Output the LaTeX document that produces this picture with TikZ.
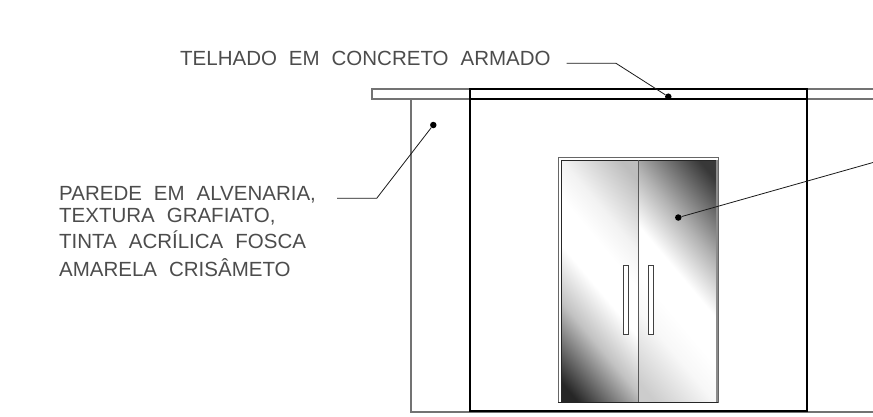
\documentclass[tikz,border=0pt]{standalone}
\usepackage{fontspec}
\setmainfont[WordSpace=2.1]{Liberation Sans}
\usetikzlibrary{calc}

\pgfdeclareverticalshading{leafglass}{100bp}{color(0bp)=(black!85); color(19bp)=(black!85); color(36bp)=(black!24); color(48bp)=(white); color(58bp)=(white); color(66bp)=(black!5); color(81bp)=(black!26); color(100bp)=(black!26)}
\pgfdeclareverticalshading{leafglasstwo}{100bp}{color(0bp)=(black!20); color(19bp)=(black!20); color(34bp)=(black!3); color(42bp)=(white); color(52bp)=(white); color(64bp)=(black!30); color(81bp)=(black!78); color(100bp)=(black!78)}

\tikzset{
    thinline/.style={draw=black!55, line width=1.2pt},
    heavyline/.style={draw=black, line width=2pt},
    leader/.style={draw=black!90, line width=0.8pt},
    leaderdot/.style={circle, fill=black, inner sep=0pt, minimum size=6.5pt},
    notetext/.style={anchor=base west, inner sep=0pt, font=\fontsize{20.5}{20.5}\selectfont, text=black!70},
    doorhandle/.style={draw=black!75, fill=white, line width=0.9pt}
}

\begin{document}
\begin{tikzpicture}[x=1pt,y=-1pt]
        \useasboundingbox (0,0) rectangle (873,416);

        % walls and roof
        \draw[thinline] (873,89) -- (372,89) -- (372,99) -- (873,99);
        \draw[thinline] (411,99) -- (411,412) -- (873,412);
        \draw[heavyline] (470,89) rectangle (807,411);
        \draw[heavyline] (470,99) -- (807,99);

        % door
        \draw[draw=black!60, line width=1pt] (558,157) rectangle (718,402);
        \shade[shading=leafglass, shading angle=-50] (561,160) rectangle (638,402);
        \shade[shading=leafglasstwo, shading angle=-50] (638,160) rectangle (716,402);
        \draw[draw=black!85, line width=1pt] (561,402) -- (561,160) -- (716,160);
        \draw[draw=black!85, line width=1pt] (558,402) -- (718,402);
        \draw[draw=black!45, line width=2pt] (716.5,160) -- (716.5,402);
        \draw[draw=black!65, line width=1pt] (638,160) -- (638,402);
        \draw[doorhandle] (623.3,265) rectangle (628.7,334);
        \draw[doorhandle] (648.3,265) rectangle (653.7,334);

        % notes
        \node[notetext] (telhado) at (180,65)  {TELHADO EM CONCRETO ARMADO};
        \node[notetext] (parede)  at (59,200)  {PAREDE EM ALVENARIA,};
        \node[notetext] (textura) at (59,222)  {TEXTURA GRAFIATO,};
        \node[notetext] (tinta)   at (59,248)  {TINTA ACRÍLICA FOSCA};
        \node[notetext] (amarela) at (59,276)  {AMARELA CRISÂMETO};

        % leaders
        \node[leaderdot] (roofdot) at (668.3,96.7) {};
        \node[leaderdot] (walldot) at (433.3,125)  {};
        \node[leaderdot] (doordot) at (678.3,217.5) {};
        \coordinate (roofstart) at (566.5,63.3);
        \coordinate (roofbend)  at (616,63.3);
        \coordinate (wallstart) at (337,198.3);
        \coordinate (wallbend)  at (376.7,198.3);
        \coordinate (doorend)   at (873,162.5);

        \draw[leader] (roofstart) -- (roofbend) -- (roofdot);
        \draw[leader] (wallstart) -- (wallbend) -- (walldot);
        \draw[leader] (doorend) -- (doordot);
\end{tikzpicture}
\end{document}
